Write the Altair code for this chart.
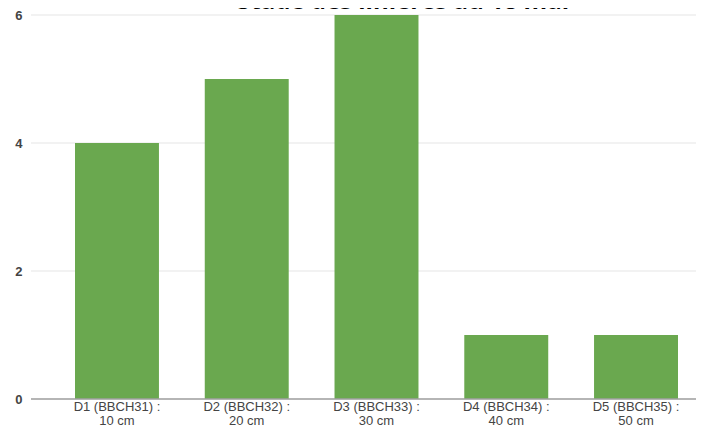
import altair as alt
import pandas as pd

title_text = "Stade des linières au 18 mai"
stades = ["D1 (BBCH31) : 10 cm", "D2 (BBCH32) : 20 cm", "D3 (BBCH33) : 30 cm",
          "D4 (BBCH34) : 40 cm", "D5 (BBCH35) : 50 cm"]
valeurs = [4, 5, 6, 1, 1]
y_ticks = [0, 2, 4, 6]

df = pd.DataFrame({"stade": stades, "valeur": valeurs})

label_expr = ("[slice(datum.label, 0, indexof(datum.label, ':') + 1), "
              "slice(datum.label, indexof(datum.label, ':') + 2)]")

y_scale = alt.Scale(domain=[0, 6], nice=False)
y_axis = alt.Axis(values=y_ticks, format="d", domain=False, ticks=False, grid=False,
                  labelFont="Liberation Sans", labelFontSize=13,
                  labelFontWeight="bold", labelColor="#444444", labelPadding=9)

grid = alt.Chart(pd.DataFrame({"g": y_ticks})).mark_rule(
    color="#e6e6e6", strokeWidth=1.2
).encode(y=alt.Y("g:Q", scale=y_scale, title=None, axis=y_axis))

bars = alt.Chart(df).mark_bar(color="#6aa84f").encode(
    x=alt.X("stade:N", sort=stades, title=None,
            scale=alt.Scale(range=[44, 647], paddingInner=0.353, paddingOuter=0),
            axis=alt.Axis(labelAngle=0, labelExpr=label_expr, domain=False, ticks=False,
                          labelFont="Liberation Sans", labelFontSize=13, labelColor="#444444",
                          labelPadding=1, labelLineHeight=14, labelBaseline="top")),
    y=alt.Y("valeur:Q", scale=y_scale, title=None, axis=y_axis),
)

zero = alt.Chart(pd.DataFrame({"z": [0]})).mark_rule(color="#a0a0a0", strokeWidth=1.5).encode(
    y=alt.Y("z:Q", scale=y_scale, title=None, axis=y_axis)
)

title = alt.Chart(pd.DataFrame({"t": [title_text]})).mark_text(
    font="Open Sans", fontWeight="bold", fontSize=24, color="#000000",
    align="center", baseline="alphabetic"
).encode(x=alt.value(372), y=alt.value(-6), text="t:N")

chart = alt.layer(grid, bars, zero, title).properties(
    width=665, height=384,
    autosize=alt.AutoSizeParams(type="none"),
    padding={"left": 23, "top": 7, "right": 0, "bottom": 27},
).configure_view(stroke=None)

chart.save("out.html", embed_options={"renderer": "svg", "actions": False})
